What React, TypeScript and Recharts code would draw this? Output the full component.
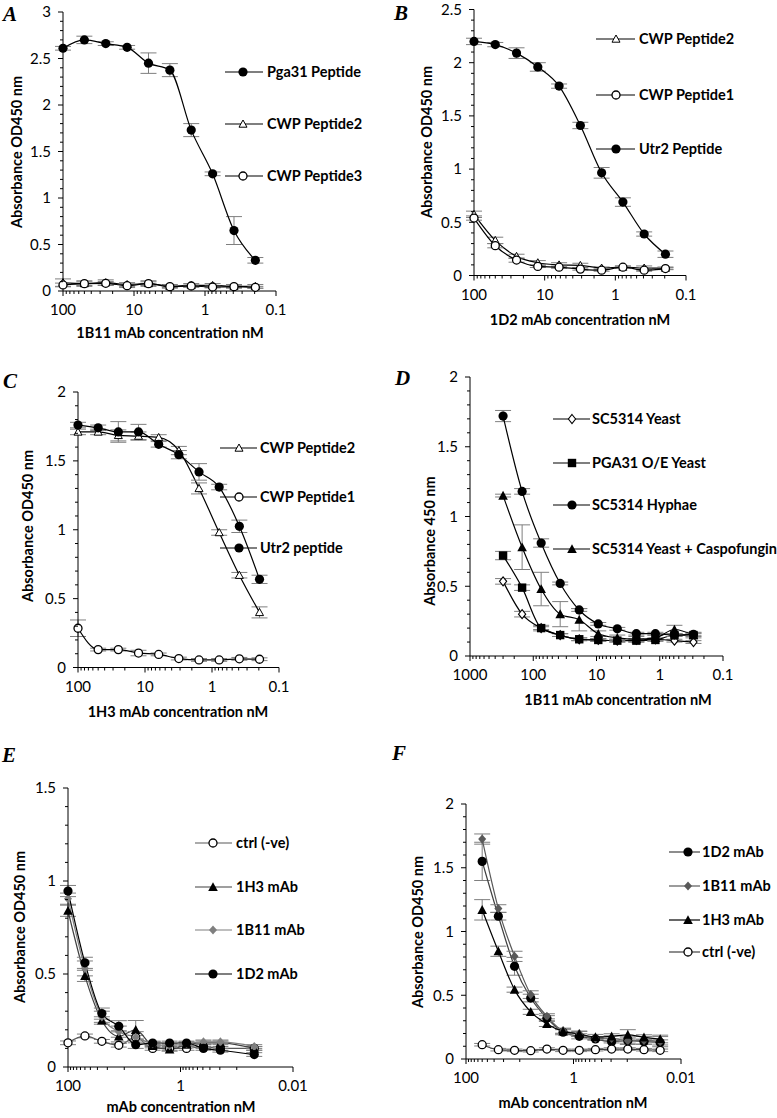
import React from "react";
import { LineChart, Line, XAxis, YAxis, ErrorBar } from "recharts";

const FONT = "Lato, 'Open Sans', sans-serif";
const ERR = "#7f7f7f";

// ---------- data ----------
const concABC = [100, 50, 25, 12.5, 6.25, 3.125, 1.5625, 0.78125, 0.390625, 0.1953125];
const concD = [300, 150, 75, 37.5, 18.75, 9.375, 4.6875, 2.34375, 1.171875, 0.5859375, 0.29296875];
const concE = [100, 50, 25, 12.5, 6.25, 3.125, 1.5625, 0.78125, 0.390625, 0.1953125, 0.048828125];
const concF = [50, 25, 12.5, 6.25, 3.125, 1.5625, 0.78125, 0.390625, 0.1953125, 0.09765625, 0.048828125, 0.0244140625];

// A
const aPga31 = [2.61, 2.7, 2.66, 2.62, 2.45, 2.375, 1.73, 1.26, 0.65, 0.33];
const aPga31Err = [0.02, 0.04, 0.02, 0.02, 0.11, 0.07, 0.07, 0.02, 0.15, 0.03];
const aCwp2 = [0.09, 0.08, 0.09, 0.07, 0.08, 0.05, 0.06, 0.06, 0.05, 0.05];
const aCwp2Err = [0.04, 0.03, 0.03, 0.02, 0.03, 0.02, 0.02, 0.02, 0.02, 0.02];
const aCwp3 = [0.065, 0.079, 0.083, 0.057, 0.079, 0.047, 0.054, 0.043, 0.047, 0.04];
const aCwp3Err = [0.02, 0.02, 0.02, 0.02, 0.02, 0.01, 0.01, 0.01, 0.01, 0.01];

// B
const bCwp2 = [0.575, 0.33, 0.18, 0.12, 0.1, 0.095, 0.07, 0.08, 0.07, 0.07];
const bCwp2Err = [0.03, 0.03, 0.02, 0.02, 0.02, 0.02, 0.01, 0.01, 0.02, 0.01];
const bCwp1 = [0.54, 0.28, 0.145, 0.085, 0.078, 0.06, 0.05, 0.078, 0.05, 0.065];
const bCwp1Err = [0.02, 0.02, 0.02, 0.01, 0.01, 0.01, 0.01, 0.01, 0.01, 0.01];
const bUtr2 = [2.2, 2.17, 2.09, 1.96, 1.78, 1.41, 0.965, 0.69, 0.39, 0.2];
const bUtr2Err = [0.03, 0.02, 0.05, 0.04, 0.02, 0.03, 0.05, 0.04, 0.02, 0.03];

// C
const cCwp2 = [1.71, 1.71, 1.685, 1.68, 1.67, 1.575, 1.3, 0.98, 0.67, 0.4];
const cCwp2Err = [0.02, 0.02, 0.04, 0.03, 0.02, 0.03, 0.04, 0.02, 0.02, 0.04];
const cCwp1 = [0.285, 0.13, 0.13, 0.105, 0.095, 0.065, 0.055, 0.055, 0.063, 0.06];
const cCwp1Err = [0.06, 0.01, 0.01, 0.02, 0.01, 0.01, 0.01, 0.01, 0.01, 0.01];
const cUtr2 = [1.76, 1.74, 1.71, 1.71, 1.62, 1.545, 1.42, 1.31, 1.025, 0.64];
const cUtr2Err = [0.02, 0.02, 0.075, 0.055, 0.02, 0.03, 0.06, 0.02, 0.045, 0.03];

// D
const dYeast = [0.535, 0.3, 0.2, 0.15, 0.12, 0.115, 0.11, 0.115, 0.12, 0.11, 0.1];
const dYeastErr = [0.02, 0.02, 0.02, 0.01, 0.01, 0.01, 0.01, 0.01, 0.01, 0.01, 0.01];
const dPga31 = [0.72, 0.49, 0.2, 0.15, 0.12, 0.115, 0.11, 0.11, 0.115, 0.15, 0.15];
const dPga31Err = [0.03, 0.02, 0.01, 0.01, 0.01, 0.01, 0.01, 0.01, 0.01, 0.01, 0.01];
const dHyphae = [1.72, 1.18, 0.81, 0.52, 0.33, 0.23, 0.195, 0.16, 0.16, 0.15, 0.155];
const dHyphaeErr = [0.04, 0.02, 0.03, 0.01, 0.01, 0.01, 0.01, 0.01, 0.01, 0.01, 0.01];
const dCaspo = [1.15, 0.78, 0.48, 0.3, 0.26, 0.16, 0.13, 0.12, 0.13, 0.19, 0.15];
const dCaspoErr = [0.01, 0.16, 0.12, 0.09, 0.08, 0.02, 0.02, 0.02, 0.02, 0.03, 0.02];

// E
const eCtrl = [0.13, 0.167, 0.138, 0.117, 0.16, 0.1, 0.1, 0.1, 0.11, 0.1, 0.1];
const eCtrlErr = [0.01, 0.01, 0.01, 0.01, 0.01, 0.01, 0.01, 0.01, 0.01, 0.01, 0.01];
const e1H3 = [0.84, 0.49, 0.25, 0.165, 0.2, 0.113, 0.095, 0.12, 0.13, 0.13, 0.1];
const e1H3Err = [0.03, 0.03, 0.02, 0.03, 0.05, 0.01, 0.01, 0.01, 0.01, 0.01, 0.01];
const e1B11 = [0.905, 0.53, 0.27, 0.19, 0.16, 0.125, 0.115, 0.125, 0.135, 0.135, 0.11];
const e1B11Err = [0.03, 0.04, 0.03, 0.03, 0.03, 0.01, 0.01, 0.01, 0.01, 0.01, 0.01];
const e1D2 = [0.946, 0.56, 0.287, 0.219, 0.12, 0.129, 0.129, 0.129, 0.1, 0.09, 0.067];
const e1D2Err = [0.03, 0.03, 0.03, 0.03, 0.02, 0.01, 0.01, 0.01, 0.01, 0.01, 0.01];

// F
const f1D2 = [1.55, 1.12, 0.727, 0.478, 0.32, 0.21, 0.178, 0.157, 0.136, 0.144, 0.136, 0.13];
const f1D2Err = [0.15, 0.03, 0.07, 0.03, 0.02, 0.02, 0.02, 0.01, 0.01, 0.02, 0.02, 0.02];
const f1B11 = [1.725, 1.18, 0.805, 0.505, 0.335, 0.222, 0.199, 0.162, 0.162, 0.144, 0.146, 0.136];
const f1B11Err = [0.04, 0.03, 0.04, 0.03, 0.02, 0.02, 0.02, 0.01, 0.02, 0.03, 0.03, 0.04];
const f1H3 = [1.17, 0.845, 0.544, 0.37, 0.275, 0.217, 0.196, 0.173, 0.178, 0.19, 0.17, 0.157];
const f1H3Err = [0.08, 0.04, 0.02, 0.02, 0.02, 0.02, 0.02, 0.02, 0.02, 0.04, 0.02, 0.03];
const fCtrl = [0.112, 0.073, 0.068, 0.065, 0.078, 0.068, 0.068, 0.073, 0.078, 0.078, 0.073, 0.068];
const fCtrlErr = [0.01, 0.01, 0.01, 0.01, 0.01, 0.01, 0.01, 0.01, 0.01, 0.01, 0.01, 0.01];

// tick labels
const xLabels3 = [100, 10, 1, 0.1];
const xLabelsD = [1000, 100, 10, 1, 0.1];
const xLabelsEF = [100, 1, 0.01];
const yLabelsA = [0, 0.5, 1, 1.5, 2, 2.5, 3];
const yLabelsB = [0, 0.5, 1, 1.5, 2, 2.5];
const yLabels2 = [0, 0.5, 1, 1.5, 2];
const yLabelsE = [0, 0.5, 1, 1.5];

// ---------- helpers ----------
type Kind = "dot" | "ring" | "triOpen" | "tri" | "square" | "diamondOpen" | "diamondGrey";

function Marker({ kind, cx, cy, color }: { kind: Kind; cx: number; cy: number; color?: string }) {
  switch (kind) {
    case "dot":
      return <circle cx={cx} cy={cy} r={4.6} fill="#000" />;
    case "ring":
      return <circle cx={cx} cy={cy} r={4} fill="#fff" stroke="#000" strokeWidth={1.3} />;
    case "triOpen": {
      const s = 4;
      return <polygon points={`${cx},${cy - s} ${cx + s},${cy + s * 0.8} ${cx - s},${cy + s * 0.8}`} fill="#fff" stroke="#000" strokeWidth={1} />;
    }
    case "tri": {
      const s = 4.8;
      return <polygon points={`${cx},${cy - s} ${cx + s},${cy + s * 0.85} ${cx - s},${cy + s * 0.85}`} fill="#000" />;
    }
    case "square":
      return <rect x={cx - 4.2} y={cy - 4.2} width={8.4} height={8.4} fill="#000" />;
    case "diamondOpen":
      return <polygon points={`${cx},${cy - 4.5} ${cx + 3.6},${cy} ${cx},${cy + 4.5} ${cx - 3.6},${cy}`} fill="#fff" stroke="#000" strokeWidth={1.1} />;
    case "diamondGrey":
      return <polygon points={`${cx},${cy - 4.6} ${cx + 4},${cy} ${cx},${cy + 4.6} ${cx - 4},${cy}`} fill={color || "#7f7f7f"} />;
  }
  return null;
}

type Series = { name: string; values: number[]; errors: number[]; kind: Kind; stroke: string; fill?: string };

type Panel = {
  id: string;
  letter: [string, number, number];
  plot: { left: number; top: number; right: number; bottom: number };
  yMax: number;
  yLabels: number[];
  xDomain: [number, number];
  xMajor: number[];
  xMinor: number[];
  xLabels: number[];
  conc: number[];
  series: Series[];
  yTitle: [string, number, number];
  xTitle: [string, number, number];
  legend: { x1: number; x2: number; mx: number; tx: number; rows: number[]; order: number[] };
};

function minorDecades(decades: number[], ks: number[]) {
  const out: number[] = [];
  decades.forEach((d) => ks.forEach((k) => out.push(k * d)));
  return out;
}
const k2to9 = [2, 3, 4, 5, 6, 7, 8, 9];
const k1to9 = [1, 2, 3, 4, 5, 6, 7, 8, 9];

function yTicks(max: number) {
  const t: number[] = [];
  for (let i = 0; i <= Math.round(max * 10); i++) t.push(i / 10);
  return t;
}
const near = (a: number, b: number) => Math.abs(a - b) <= Math.abs(b) * 1e-6 + 1e-9;

const XTick = (props: any) => {
  const { x, y, payload, labels, majors } = props;
  const v = payload.value;
  const major = majors.some((m: number) => near(v, m));
  const lab = labels.some((m: number) => near(v, m));
  return (
    <g>
      <line x1={x} x2={x} y1={y} y2={y + (major ? 5 : 3)} stroke="#000" strokeWidth={1} />
      {lab && (
        <text x={x} y={y + 19} dy="0.35em" textAnchor="middle" fontFamily={FONT} fontSize={15} fill="#000">
          {String(v)}
        </text>
      )}
    </g>
  );
};

const YTick = (props: any) => {
  const { x, y, payload, labels } = props;
  const v = payload.value;
  const lab = labels.some((m: number) => near(v, m));
  return (
    <g>
      <line x1={x - (lab ? 5 : 3)} x2={x} y1={y} y2={y} stroke="#000" strokeWidth={1} />
      {lab && (
        <text x={x - 12} y={y} dy="0.35em" textAnchor="end" fontFamily={FONT} fontSize={15} fill="#000">
          {String(v)}
        </text>
      )}
    </g>
  );
};

const W = 777;
const H = 1118;

function PanelChart({ p }: { p: Panel }) {
  const rows = p.conc.map((c, i) => {
    const r: any = { conc: c };
    p.series.forEach((s, k) => {
      r[`v${k}`] = s.values[i];
      r[`e${k}`] = s.errors[i];
    });
    return r;
  });
  const { left, top, right, bottom } = p.plot;
  return (
    <div style={{ position: "absolute", left: 0, top: 0 }}>
      <LineChart
        width={W}
        height={H}
        data={rows}
        margin={{ top, left: left - 40, right: W - right, bottom: H - bottom - 30 }}
      >
        <XAxis
          dataKey="conc"
          type="number"
          scale="log"
          domain={p.xDomain}
          reversed
          ticks={[...p.xMajor, ...p.xMinor]}
          interval={0}
          tickSize={0}
          tickMargin={0}
          tickLine={false}
          axisLine={{ stroke: "#000", strokeWidth: 1 }}
          height={30}
          tick={(tp: any) => <XTick {...tp} labels={p.xLabels} majors={p.xMajor} />}
        />
        <YAxis
          type="number"
          domain={[0, p.yMax]}
          ticks={yTicks(p.yMax)}
          interval={0}
          tickSize={0}
          tickMargin={0}
          tickLine={false}
          axisLine={{ stroke: "#000", strokeWidth: 1 }}
          width={40}
          tick={(tp: any) => <YTick {...tp} labels={p.yLabels} />}
        />
        {p.series.map((s, k) => (
          <Line
            key={s.name}
            dataKey={`v${k}`}
            type="monotone"
            stroke={s.stroke}
            strokeWidth={1.2}
            isAnimationActive={false}
            activeDot={false}
            dot={(dp: any) => <Marker key={`${p.id}-${k}-${dp.index}`} kind={s.kind} cx={dp.cx} cy={dp.cy} color={s.fill} />}
          >
            <ErrorBar dataKey={`e${k}`} direction="y" width={8} stroke={ERR} strokeWidth={1} />
          </Line>
        ))}
      </LineChart>
    </div>
  );
}

function PanelText({ p }: { p: Panel }) {
  const lg = p.legend;
  return (
    <g>
      <text x={p.letter[1]} y={p.letter[2]} fontFamily="'Liberation Serif', 'DejaVu Serif', serif" fontStyle="italic" fontWeight="bold" fontSize={21}>
        {p.letter[0]}
      </text>
      <text
        transform={`translate(${p.yTitle[1]},${p.yTitle[2]}) rotate(-90)`}
        textAnchor="middle"
        dy="0.35em"
        fontFamily={FONT}
        fontWeight="bold"
        fontSize={14.5}
      >
        {p.yTitle[0]}
      </text>
      <text x={p.xTitle[1]} y={p.xTitle[2]} dy="0.35em" textAnchor="middle" fontFamily={FONT} fontWeight="bold" fontSize={14.5}>
        {p.xTitle[0]}
      </text>
      {lg.order.map((si, i) => {
        const s = p.series[si];
        const y = lg.rows[i];
        return (
          <g key={s.name}>
            <line x1={lg.x1} x2={lg.x2} y1={y} y2={y} stroke={s.stroke} strokeWidth={1.2} />
            <Marker kind={s.kind} cx={lg.mx} cy={y} color={s.fill} />
            <text x={lg.tx} y={y} dy="0.35em" fontFamily={FONT} fontWeight="bold" fontSize={14.5}>
              {s.name}
            </text>
          </g>
        );
      })}
    </g>
  );
}

const minorsABC = minorDecades([0.1, 1, 10], k2to9);
const minorsD = minorDecades([0.1, 1, 10, 100], k2to9);
const minorsEF = minorDecades([0.1, 10], k1to9).filter((v) => !near(v, 0.1) && !near(v, 10)).concat([0.1, 10]);

const panels: Panel[] = [
  {
    id: "A",
    letter: ["A", 3, 21],
    plot: { left: 63, top: 12, right: 276, bottom: 291 },
    yMax: 3,
    yLabels: yLabelsA,
    xDomain: [0.1, 100],
    xMajor: xLabels3,
    xMinor: minorsABC,
    xLabels: xLabels3,
    conc: concABC,
    series: [
      { name: "Pga31 Peptide", values: aPga31, errors: aPga31Err, kind: "dot", stroke: "#000" },
      { name: "CWP Peptide2", values: aCwp2, errors: aCwp2Err, kind: "triOpen", stroke: "#000" },
      { name: "CWP Peptide3", values: aCwp3, errors: aCwp3Err, kind: "ring", stroke: "#000" },
    ],
    yTitle: ["Absorbance OD450 nm", 17, 152],
    xTitle: ["1B11 mAb concentration nM", 170, 333],
    legend: { x1: 225, x2: 263, mx: 243, tx: 267, rows: [72, 124, 176], order: [0, 1, 2] },
  },
  {
    id: "B",
    letter: ["B", 394, 20],
    plot: { left: 474, top: 9.5, right: 686, bottom: 275.5 },
    yMax: 2.5,
    yLabels: yLabelsB,
    xDomain: [0.1, 100],
    xMajor: xLabels3,
    xMinor: minorsABC,
    xLabels: xLabels3,
    conc: concABC,
    series: [
      { name: "CWP Peptide2", values: bCwp2, errors: bCwp2Err, kind: "triOpen", stroke: "#000" },
      { name: "CWP Peptide1", values: bCwp1, errors: bCwp1Err, kind: "ring", stroke: "#000" },
      { name: "Utr2 Peptide", values: bUtr2, errors: bUtr2Err, kind: "dot", stroke: "#000" },
    ],
    yTitle: ["Absorbance OD450 nm", 427, 142],
    xTitle: ["1D2 mAb concentration nM", 580, 320],
    legend: { x1: 596, x2: 635, mx: 616, tx: 639, rows: [39, 95, 149], order: [0, 1, 2] },
  },
  {
    id: "C",
    letter: ["C", 3, 388],
    plot: { left: 78, top: 392, right: 279, bottom: 667.5 },
    yMax: 2,
    yLabels: yLabels2,
    xDomain: [0.1, 100],
    xMajor: xLabels3,
    xMinor: minorsABC,
    xLabels: xLabels3,
    conc: concABC,
    series: [
      { name: "CWP Peptide2", values: cCwp2, errors: cCwp2Err, kind: "triOpen", stroke: "#000" },
      { name: "CWP Peptide1", values: cCwp1, errors: cCwp1Err, kind: "ring", stroke: "#000" },
      { name: "Utr2 peptide", values: cUtr2, errors: cUtr2Err, kind: "dot", stroke: "#000" },
    ],
    yTitle: ["Absorbance OD450 nm", 28, 526],
    xTitle: ["1H3 mAb concentration nM", 178, 712],
    legend: { x1: 220, x2: 257, mx: 239, tx: 260, rows: [448, 497, 548], order: [0, 1, 2] },
  },
  {
    id: "D",
    letter: ["D", 395, 385],
    plot: { left: 470, top: 377, right: 723, bottom: 656 },
    yMax: 2,
    yLabels: yLabels2,
    xDomain: [0.1, 1000],
    xMajor: xLabelsD,
    xMinor: minorsD,
    xLabels: xLabelsD,
    conc: concD,
    series: [
      { name: "SC5314 Yeast", values: dYeast, errors: dYeastErr, kind: "diamondOpen", stroke: "#000" },
      { name: "PGA31 O/E Yeast", values: dPga31, errors: dPga31Err, kind: "square", stroke: "#000" },
      { name: "SC5314 Hyphae", values: dHyphae, errors: dHyphaeErr, kind: "dot", stroke: "#000" },
      { name: "SC5314 Yeast + Caspofungin", values: dCaspo, errors: dCaspoErr, kind: "tri", stroke: "#000" },
    ],
    yTitle: ["Absorbance 450 nm", 430, 541],
    xTitle: ["1B11 mAb concentration nM", 618, 700],
    legend: { x1: 553, x2: 590, mx: 572, tx: 592, rows: [419, 463, 505, 549], order: [0, 1, 2, 3] },
  },
  {
    id: "E",
    letter: ["E", 2, 762],
    plot: { left: 68, top: 788, right: 293, bottom: 1067 },
    yMax: 1.5,
    yLabels: yLabelsE,
    xDomain: [0.01, 100],
    xMajor: xLabelsEF,
    xMinor: minorsEF,
    xLabels: xLabelsEF,
    conc: concE,
    series: [
      { name: "ctrl (-ve)", values: eCtrl, errors: eCtrlErr, kind: "ring", stroke: "#595959" },
      { name: "1H3 mAb", values: e1H3, errors: e1H3Err, kind: "tri", stroke: "#404040" },
      { name: "1B11 mAb", values: e1B11, errors: e1B11Err, kind: "diamondGrey", stroke: "#7f7f7f", fill: "#7f7f7f" },
      { name: "1D2 mAb", values: e1D2, errors: e1D2Err, kind: "dot", stroke: "#000" },
    ],
    yTitle: ["Absorbance OD450 nm", 20, 927],
    xTitle: ["mAb concentration nM", 181, 1107],
    legend: { x1: 195, x2: 232, mx: 213, tx: 236, rows: [843, 887, 930, 974], order: [0, 1, 2, 3] },
  },
  {
    id: "F",
    letter: ["F", 392, 760],
    plot: { left: 466, top: 804, right: 681, bottom: 1059 },
    yMax: 2,
    yLabels: yLabels2,
    xDomain: [0.01, 100],
    xMajor: xLabelsEF,
    xMinor: minorsEF,
    xLabels: xLabelsEF,
    conc: concF,
    series: [
      { name: "1D2 mAb", values: f1D2, errors: f1D2Err, kind: "dot", stroke: "#404040" },
      { name: "1B11 mAb", values: f1B11, errors: f1B11Err, kind: "diamondGrey", stroke: "#595959", fill: "#595959" },
      { name: "1H3 mAb", values: f1H3, errors: f1H3Err, kind: "tri", stroke: "#000" },
      { name: "ctrl (-ve)", values: fCtrl, errors: fCtrlErr, kind: "ring", stroke: "#404040" },
    ],
    yTitle: ["Absorbance OD450 nm", 418, 932],
    xTitle: ["mAb concentration nM", 573, 1103],
    legend: { x1: 669, x2: 700, mx: 688, tx: 702, rows: [852, 886, 920, 952], order: [0, 1, 2, 3] },
  },
];

export default function App() {
  return (
    <div style={{ position: "absolute", left: 0, top: 0, width: W, height: H, background: "#fff", overflow: "hidden" }}>
      {panels.map((p) => (
        <PanelChart key={p.id} p={p} />
      ))}
      <svg width={W} height={H} style={{ position: "absolute", left: 0, top: 0, pointerEvents: "none" }}>
        {panels.map((p) => (
          <PanelText key={p.id} p={p} />
        ))}
      </svg>
    </div>
  );
}
